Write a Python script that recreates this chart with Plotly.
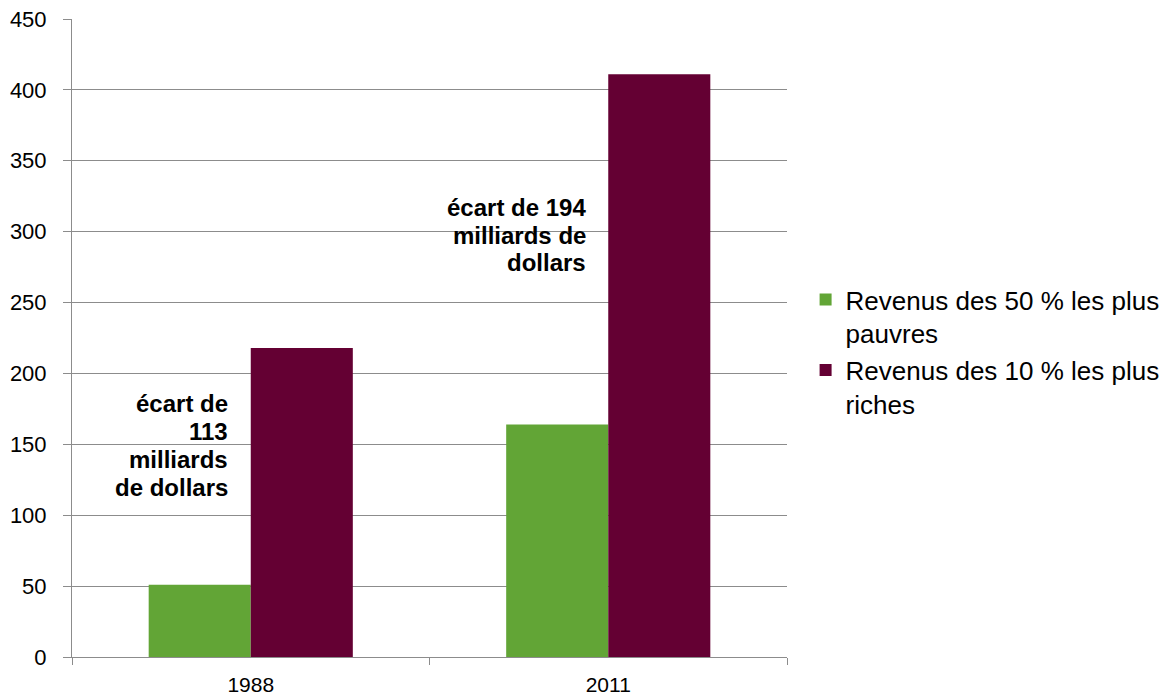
import plotly.graph_objects as go

categories = ["1988", "2011"]
poor_label = "Revenus des 50 % les plus<br>pauvres"
rich_label = "Revenus des 10 % les plus<br>riches"
poor_values = [51, 164]
rich_values = [218, 411]
note_1988_lines = ["écart de", "113", "milliards", "de dollars"]
note_2011_lines = ["écart de 194", "milliards de", "dollars"]
y_ticks = [0, 50, 100, 150, 200, 250, 300, 350, 400, 450]

FONT = "Liberation Sans, Arial, sans-serif"
GREEN = "#62A536"
MAROON = "#640033"
GRID = "#8c8c8c"

fig = go.Figure()
fig.add_trace(go.Bar(x=categories, y=poor_values, name=poor_label,
                     marker=dict(color=GREEN, line=dict(width=0))))
fig.add_trace(go.Bar(x=categories, y=rich_values, name=rich_label,
                     marker=dict(color=MAROON, line=dict(width=0))))

# white backgrounds behind the notes (hide gridlines, stay under the bars)
fig.add_shape(type="rect", xref="paper", yref="y", x0=0.0084, x1=0.2434, y0=108, y1=195,
              fillcolor="white", line=dict(width=0), layer="between")
fig.add_shape(type="rect", xref="paper", yref="y", x0=0.4839, x1=0.744, y0=258, y1=340,
              fillcolor="white", line=dict(width=0), layer="between")


def add_note(lines, x, y_center, spacing):
    n = len(lines)
    for i, line in enumerate(lines):
        shift = ((n - 1) / 2 - i) * spacing
        fig.add_annotation(text=line, xref="paper", yref="y", x=x, y=y_center,
                           yshift=shift, xanchor="right", yanchor="middle",
                           align="right", showarrow=False,
                           font=dict(family=FONT, size=24, color="black", weight="bold"))


add_note(note_1988_lines, 0.2210, 149.0, 28)
add_note(note_2011_lines, 0.7220, 297.6, 27.5)

# the page body has an 8px margin, so the figure is 8px smaller and margins shifted
fig.update_layout(
    width=1164, height=692,
    margin=dict(l=64, r=385, t=11, b=43, pad=0, autoexpand=False),
    paper_bgcolor="white", plot_bgcolor="white",
    barmode="group", bargap=0.429, bargroupgap=0,
    font=dict(family=FONT, size=22, color="black"),
    legend=dict(x=1.026, xanchor="left", y=0.478, yanchor="middle",
                valign="top", font=dict(family=FONT, size=26, color="black"),
                itemwidth=30),
    showlegend=True,
)
fig.update_xaxes(
    automargin=False,
    showline=True, linecolor=GRID, linewidth=1,
    ticks="outside", tickson="boundaries", ticklen=7, tickcolor=GRID,
    showgrid=False, ticklabelstandoff=9, ticklabeloverflow="allow",
    tickfont=dict(family=FONT, size=21, color="black"),
)
fig.update_yaxes(
    automargin=False,
    range=[0, 450], tickvals=y_ticks,
    showline=True, linecolor=GRID, linewidth=1,
    ticks="outside", ticklen=8, tickcolor=GRID,
    showgrid=True, gridcolor=GRID, gridwidth=1, zeroline=False,
    ticklabelstandoff=12, ticklabeloverflow="allow",
    tickfont=dict(family=FONT, size=22, color="black"),
)

fig.write_html("out.html")
